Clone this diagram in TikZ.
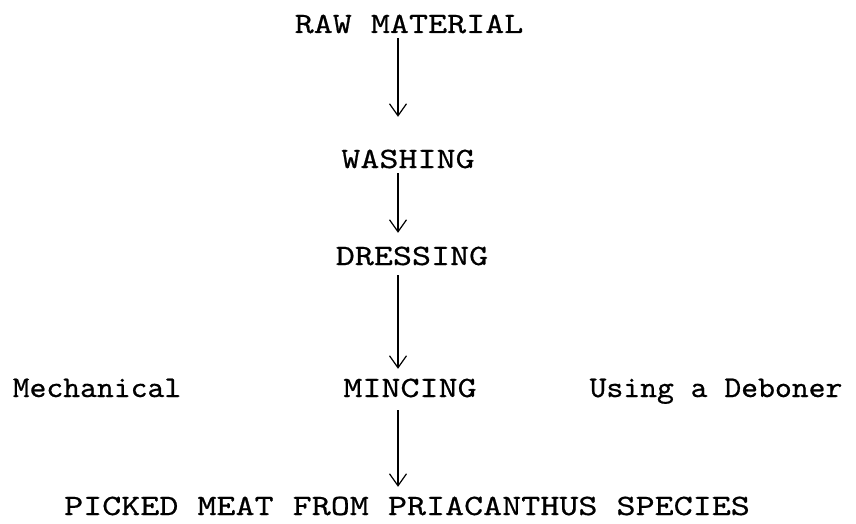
\documentclass[tikz,border=0pt]{standalone}
\usepackage{fontspec}
\newfontfamily\capfont{lmmono10-regular.otf}[FakeStretch=1.23, FakeBold=0.6]
\newfontfamily\lowfont{lmmono10-regular.otf}[FakeStretch=1.07, FakeBold=0.6]
\usetikzlibrary{arrows.meta}
\begin{document}
\begin{tikzpicture}[x=1pt,y=-1pt,
  caps/.style={inner sep=0pt, anchor=base, text height=18pt, text depth=0pt,
    font=\capfont\fontsize{29.5}{29.5}\selectfont},
  lower/.style={inner sep=0pt, anchor=base, text height=18pt, text depth=0pt,
    font=\lowfont\fontsize{30}{30}\selectfont},
  arr/.style={line width=1.2pt, -{Straight Barb[length=12pt,width=17pt]}}]
\useasboundingbox (0,0) rectangle (856,524);
\coordinate (ax) at (398,0);
\node[caps] (raw) at (409,33) {RAW MATERIAL};
\node[caps] (wash) at (408,168) {WASHING};
\node[caps] (dress) at (412,265) {DRESSING};
\node[caps] (minc) at (410,397) {MINCING};
\node[lower] (mech) at (97,397) {Mechanical};
\node[lower] (deb) at (716,397) {Using a Deboner};
\node[caps] (pick) at (407,515) {PICKED MEAT FROM PRIACANTHUS SPECIES};
\draw[arr, shorten <=5pt, shorten >=33pt] (raw.south -| ax) -- (wash.north -| ax);
\draw[arr, shorten <=5pt, shorten >=14pt] (wash.south -| ax) -- (dress.north -| ax);
\draw[arr, shorten <=10pt, shorten >=10pt] (dress.south -| ax) -- (minc.north -| ax);
\draw[arr, shorten <=13pt, shorten >=10pt] (minc.south -| ax) -- (pick.north -| ax);
\end{tikzpicture}
\end{document}
